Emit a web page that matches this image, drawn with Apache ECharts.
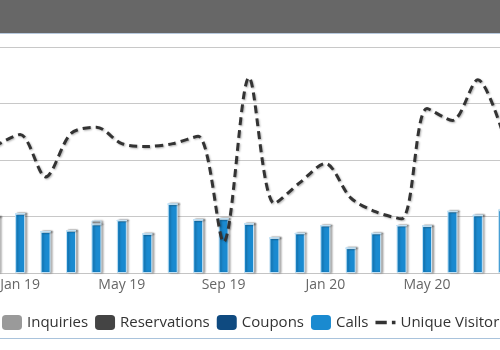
<!DOCTYPE html>
<html><head><meta charset="utf-8">
<script src="https://cdn.jsdelivr.net/npm/echarts@6/dist/echarts.min.js"></script>
<style>html,body{margin:0;padding:0;background:#fff}#c{width:500px;height:350px}</style>
</head><body><div id="c"></div>
<script>
const months = ['Dec 18','Jan 19','Feb 19','Mar 19','Apr 19','May 19','Jun 19','Jul 19','Aug 19','Sep 19','Oct 19','Nov 19','Dec 19','Jan 20','Feb 20','Mar 20','Apr 20','May 20','Jun 20','Jul 20','Aug 20'];
const calls =        [99,105,73,75,86,93,69,122,94,96,87,62,70,84,44,70,84,83,109,102,111];
const coupons =      [0,0,0,0,0,0,0,0,0,0,0,0,0,0,0,0,0,0,0,0,0];
const reservations = [0,0,0,0,0,0,0,0,0,0,0,0,0,0,0,0,0,0,0,0,0];
const inquiries =    [0,0,0,0,7,0,0,0,0,0,0,0,0,0,0,0,0,0,0,0,0];
const visitors =     [224,245,170,247,258,229,224,229,242,55,346,123,160,194,133,108,96,291,270,342,245];

const shadow = {shadowColor:'rgba(0,0,0,0.3)', shadowBlur:2, shadowOffsetX:2, shadowOffsetY:0};
function barSeries(name, data, color){
  return {name, type:'bar', stack:'a', data, barWidth:10,
    itemStyle:Object.assign({color, borderColor:'#c4e2f5', borderWidth:1}, shadow)};
}
const noBorder = {borderWidth:0, shadowBlur:0, shadowOffsetX:0, shadowOffsetY:0, shadowColor:'transparent'};
const chart = echarts.init(document.getElementById('c'));
chart.setOption({
  animation:false,
  textStyle:{fontFamily:'Open Sans'},
  graphic:[
    {type:'rect', left:0, top:0, shape:{width:500,height:34}, style:{fill:'#676767'}},
    {type:'rect', left:0, top:33, shape:{width:500,height:1}, style:{fill:'#b7c9de'}},
    {type:'rect', left:0, top:338, shape:{width:500,height:1}, style:{fill:'#a9c3dc'}}
  ],
  grid:{left:-18, width:534, top:47, height:226, outerBoundsMode:'none', containLabel:false},
  legend:{left:2, top:315, padding:0, width:900, itemWidth:20, itemHeight:15, itemGap:7,
    itemStyle:noBorder,
    textStyle:{fontFamily:'Open Sans', fontSize:15, color:'#333'},
    data:[
      {name:'Inquiries', icon:'roundRect', itemStyle:noBorder},
      {name:'Reservations', icon:'roundRect', itemStyle:noBorder},
      {name:'Coupons', icon:'roundRect', itemStyle:noBorder},
      {name:'Calls', icon:'roundRect', itemStyle:noBorder},
      {name:'Unique Visitors', icon:'path://M0,0h11v3.5h-11zM16,0h3.5v3.5h-3.5z', itemStyle:Object.assign({color:'#333'}, noBorder)}
    ]},
  xAxis:{type:'category', data:months,
    axisLine:{lineStyle:{color:'#c4c4c4'}},
    axisTick:{alignWithLabel:true, length:5, lineStyle:{color:'#b8cbe0'}, interval:(i)=>i%4===1},
    axisLabel:{interval:(i)=>i%4===1, color:'#666', fontSize:14, margin:5, fontFamily:'Open Sans'}},
  yAxis:{type:'value', min:0, max:400, interval:100,
    axisLabel:{show:false}, axisLine:{show:false}, axisTick:{show:false},
    splitLine:{lineStyle:{color:'#c8c8c8'}}},
  series:[
    barSeries('Calls', calls, '#1a8ad0'),
    barSeries('Coupons', coupons, '#0f4a80'),
    barSeries('Reservations', reservations, '#444444'),
    barSeries('Inquiries', inquiries, '#9a9a9a'),
    {name:'Unique Visitors', type:'line', data:visitors, smooth:0.3, symbol:'none',
      lineStyle:{color:'#333', width:3, type:[8,5], shadowColor:'rgba(0,0,0,0.3)', shadowBlur:2, shadowOffsetX:1, shadowOffsetY:1},
      itemStyle:{color:'#333'}, z:5}
  ]
});
</script></body></html>
